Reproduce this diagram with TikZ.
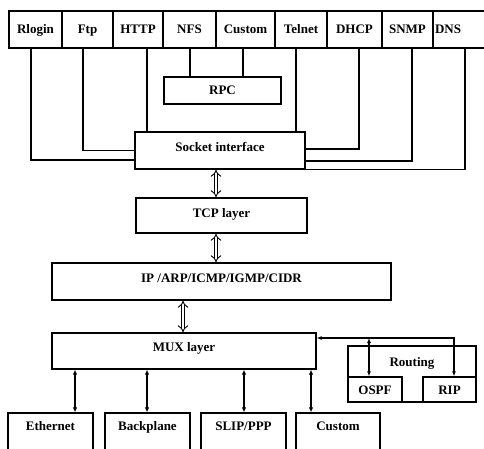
\documentclass[tikz,border=0pt]{standalone}
\usepackage{fontspec}
\setmainfont{Liberation Serif}
\usetikzlibrary{arrows.meta,calc}
\begin{document}
\begin{tikzpicture}[x=1pt,y=-1pt,
  font=\bfseries\fontsize{13}{15}\selectfont,
  box/.style 2 args={draw, line width=1.25pt, inner sep=0pt, text height=9pt,
    minimum width=#1pt, minimum height=#2pt},
  td/.style={text depth=#1pt},
  wire/.style={line width=1.2pt},
  dbl/.style={double, double distance=2.8pt, line width=0.9pt, {Implies}-{Implies}},
  link/.style={line width=1.5pt, {Latex[length=5pt,width=4.5pt]}-{Latex[length=5pt,width=4.5pt]}},
  rt/.style={line width=1.2pt, {Latex[length=5pt,width=4pt]}-{Latex[length=5pt,width=4pt]}}]
\useasboundingbox[fill=white] (0,0) rectangle (484,449);

% top row
\node[box={53}{37}, td=0] (rlogin) at (35.5,29.5) {Rlogin};
\node[box={51}{37}, td=0] (ftp) at (87.5,29.5) {Ftp};
\node[box={50}{37}, td=0] (http) at (138,29.5) {HTTP};
\node[box={53}{37}, td=0] (nfs) at (189.5,29.5) {NFS};
\node[box={59}{37}, td=0] (cust1) at (245.5,29.5) {Custom};
\node[box={52}{37}, td=0] (telnet) at (301,29.5) {Telnet};
\node[box={55}{37}, td=0] (dhcp) at (354.5,29.5) {DHCP};
\node[box={51}{37}, td=0] (snmp) at (407.5,29.5) {SNMP};
\node[box={57}{37}, td=0] (dns) at (461.5,29.5) {};
\node[anchor=base] (dnsT) at (448,34) {DNS};

% middle stack
\node[box={117}{27}, td=1] (rpc) at (222.5,90.5) {RPC};
\node[box={170}{37}, td=7] (sock) at (220,150.5) {Socket interface};
\node[box={171}{35}, td=5] (tcp) at (221.5,215.5) {TCP layer};
\node[box={339}{37}, td=7] (ip) at (221.5,281.5) {IP /ARP/ICMP/IGMP/CIDR};
\node[box={264}{36}, td=8] (mux) at (184,351) {MUX layer};

% routing
\node[box={128}{56}, td=24] (routing) at (412,374) {Routing};
\node[box={54}{25}, td=0] (ospf) at (375,389.5) {OSPF};
\node[box={53}{25}, td=0] (rip) at (449.5,389.5) {RIP};

% bottom row
\node[box={85}{47}, td=21] (eth) at (50.5,436.5) {Ethernet};
\node[box={85}{47}, td=21] (back) at (147.5,436.5) {Backplane};
\node[box={85}{47}, td=21] (slip) at (243.5,436.5) {SLIP/PPP};
\node[box={84}{47}, td=21] (cust2) at (338,436.5) {Custom};

% application connectors
\draw[wire] (rlogin.south -| 31,0) |- (sock.west |- 0,160);
\draw[wire] (ftp.south -| 83,0) |- (sock.west |- 0,150.5);
\draw[wire] (http.south -| 147,0) -- (sock.north -| 147,0);
\draw[wire] (nfs.south -| 190,0) -- (rpc.north -| 190,0);
\draw[wire] (cust1.south -| 243,0) -- (rpc.north -| 243,0);
\draw[wire] (telnet.south -| 296,0) -- (sock.north -| 296,0);
\draw[wire] (dhcp.south -| 359,0) |- (sock.east |- 0,149);
\draw[wire] (snmp.south -| 412,0) |- (sock.east |- 0,161);
\draw[wire] (dns.south -| 465,0) |- (sock.south east);

% layer arrows
\draw[dbl] (sock.south -| 216,0) -- (tcp.north -| 216,0);
\draw[dbl] (tcp.south -| 216,0) -- (ip.north -| 216,0);
\draw[dbl] (ip.south -| 183,0) -- (mux.north -| 183,0);

% routing connectors
\coordinate (split) at (369,338);
\draw[rt] (mux.east |- split) -| (rip.north -| 454,0);
\draw[rt] (split) -- (ospf.north -| split);

% interface arrows
\draw[link] (mux.south -| 75,0) -- (eth.north -| 75,0);
\draw[link] (mux.south -| 147,0) -- (back.north -| 147,0);
\draw[link] (mux.south -| 244,0) -- (slip.north -| 244,0);
\draw[link] (mux.south -| 311,0) -- (cust2.north -| 311,0);
\end{tikzpicture}
\end{document}
